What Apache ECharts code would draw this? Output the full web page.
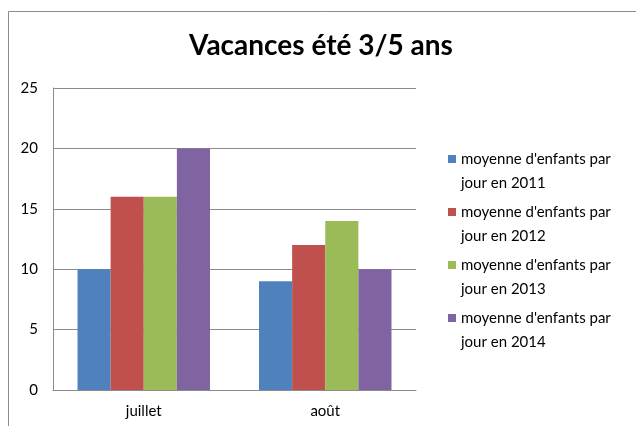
<!DOCTYPE html>
<html>
<head>
<meta charset="utf-8">
<script src="https://cdn.jsdelivr.net/npm/echarts@6/dist/echarts.min.js"></script>
<style>
  html, body { margin: 0; padding: 0; background: #fff; }
  #panel { width: 636px; height: 426px; }
</style>
</head>
<body>
<div id="panel"></div>
<script>
const COLORS = ['#4f81bd', '#c0504d', '#9bbb59', '#8064a2'];
const FONT = 'Lato';

const categories = ['juillet', 'août'];
const seriesNames = [
  "moyenne d'enfants par\njour en 2011",
  "moyenne d'enfants par\njour en 2012",
  "moyenne d'enfants par\njour en 2013",
  "moyenne d'enfants par\njour en 2014",
];
const y2011 = [10, 9];
const y2012 = [16, 12];
const y2013 = [16, 14];
const y2014 = [20, 10];
const yTicks = [0, 5, 10, 15, 20, 25];

const myChart = echarts.init(document.getElementById('panel'));

const option = {
  backgroundColor: '#fff',
  color: COLORS,
  animation: false,
  title: {
    text: 'Vacances été 3/5 ans',
    left: 316,
    top: 27,
    textAlign: 'center',
    textStyle: { fontFamily: FONT, fontSize: 28, fontWeight: 'bold', color: '#000' },
  },
  // cadre du graphique
  graphic: [
    {
      type: 'rect',
      shape: { x: 8.5, y: 11.5, width: 700, height: 500 },
      style: { fill: 'none', stroke: '#8c8c8c', lineWidth: 1 },
      silent: true,
    },
  ],
  legend: {
    orient: 'vertical',
    left: 443,
    top: 142,
    itemWidth: 8,
    itemHeight: 32,
    itemGap: 5,
    // carré en haut, point invisible en bas : le carré s'aligne sur la 1re ligne
    icon: 'path://M0 0H8V8H0Z M0 32L0.01 32',
    textStyle: {
      fontFamily: FONT,
      fontSize: 15,
      color: '#000',
      lineHeight: 24,
    },
    data: seriesNames,
  },
  grid: {
    left: 53,
    top: 88,
    right: 220,
    bottom: 36,
  },
  xAxis: {
    type: 'category',
    data: categories,
    axisLine: { lineStyle: { color: '#8c8c8c' } },
    axisTick: { show: false },
    axisLabel: { fontFamily: FONT, fontSize: 15, color: '#000', margin: 14 },
  },
  yAxis: {
    type: 'value',
    min: yTicks[0],
    max: yTicks[yTicks.length - 1],
    interval: 5,
    axisLine: { show: true, lineStyle: { color: '#8c8c8c' } },
    axisTick: { show: false },
    splitLine: { lineStyle: { color: '#8c8c8c' } },
    axisLabel: { fontFamily: FONT, fontSize: 15, color: '#000', margin: 15 },
  },
  series: [
    { name: seriesNames[0], type: 'bar', data: y2011, barGap: 0, barCategoryGap: '27%' },
    { name: seriesNames[1], type: 'bar', data: y2012 },
    { name: seriesNames[2], type: 'bar', data: y2013 },
    { name: seriesNames[3], type: 'bar', data: y2014 },
  ],
};

myChart.setOption(option);
</script>
</body>
</html>
